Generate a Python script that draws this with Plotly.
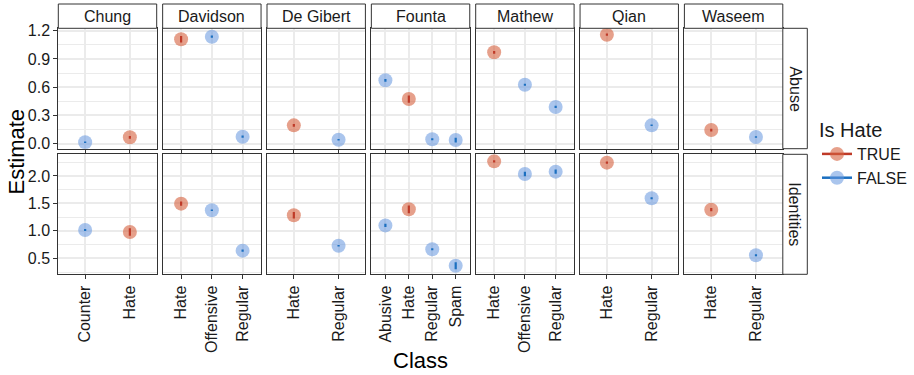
import plotly.graph_objects as go

# ---------------- data ----------------
DATASETS = ["Chung", "Davidson", "De Gibert", "Founta", "Mathew", "Qian", "Waseem"]
CLASSES = [
    ["Counter", "Hate"],
    ["Hate", "Offensive", "Regular"],
    ["Hate", "Regular"],
    ["Abusive", "Hate", "Regular", "Spam"],
    ["Hate", "Offensive", "Regular"],
    ["Hate", "Regular"],
    ["Hate", "Regular"],
]
IS_HATE = [
    [False, True],
    [True, False, False],
    [True, False],
    [False, True, False, False],
    [True, False, False],
    [True, False],
    [True, False],
]
ABUSE_EST = [
    [0.015, 0.068],
    [1.108, 1.136, 0.074],
    [0.195, 0.042],
    [0.673, 0.474, 0.047, 0.039],
    [0.970, 0.626, 0.390],
    [1.157, 0.195],
    [0.145, 0.071],
]
ABUSE_ERR = [
    [0.008, 0.015],
    [0.035, 0.012, 0.012],
    [0.015, 0.008],
    [0.015, 0.039, 0.010, 0.025],
    [0.015, 0.010, 0.012],
    [0.012, 0.008],
    [0.015, 0.008],
]
IDENT_EST = [
    [1.016, 0.980],
    [1.496, 1.375, 0.640],
    [1.284, 0.730],
    [1.100, 1.393, 0.665, 0.366],
    [2.267, 2.036, 2.079],
    [2.243, 1.594],
    [1.386, 0.556],
]
IDENT_ERR = [
    [0.020, 0.067],
    [0.040, 0.015, 0.020],
    [0.058, 0.015],
    [0.030, 0.070, 0.020, 0.064],
    [0.020, 0.040, 0.040],
    [0.020, 0.020],
    [0.030, 0.020],
]
ROWS = ["Abuse", "Identities"]
ROW_EST = [ABUSE_EST, IDENT_EST]
ROW_ERR = [ABUSE_ERR, IDENT_ERR]
Y_TICKS = [[0.0, 0.3, 0.6, 0.9, 1.2], [0.5, 1.0, 1.5, 2.0]]
Y_TICKTEXT = [["0.0", "0.3", "0.6", "0.9", "1.2"], ["0.5", "1.0", "1.5", "2.0"]]

# ---------------- style ----------------
W, H = 914, 375
FONT = "Liberation Sans, Arial, sans-serif"
FILL = {True: "rgba(214,96,62,0.6)", False: "rgba(100,150,222,0.55)"}
DARK = {True: "#BF3A28", False: "#1B6FC0"}
GRID = "#EBEBEB"
BORDER = "#333333"
TXT = "#1a1a1a"

def px(x):
    return x / W

def py(y):
    return 1 - y / H

col_left = [58.3 + i * 104.35 for i in range(7)]
col_w = 98.4
row_top = [28.3, 154.3]
row_bot = [148.7, 274.3]
y_ranges = [[-0.053, 1.225], [0.209, 2.395]]
y_minor = [dict(tick0=0, dtick=0.15), dict(tick0=0, dtick=0.25)]

fig = go.Figure()
layout = {}
shapes = []
annotations = []

for r in range(2):
    for c in range(7):
        k = r * 7 + c + 1
        xa = "xaxis" if k == 1 else f"xaxis{k}"
        ya = "yaxis" if k == 1 else f"yaxis{k}"
        xr = "x" if k == 1 else f"x{k}"
        yr = "y" if k == 1 else f"y{k}"
        cats = CLASSES[c]
        n = len(cats)
        est = ROW_EST[r][c]
        err = ROW_ERR[r][c]
        hate = IS_HATE[c]
        for grp in (True, False):
            idx = [i for i in range(n) if hate[i] == grp]
            if not idx:
                continue
            xs = idx
            ys = [est[i] for i in idx]
            es = [err[i] for i in idx]
            fig.add_trace(go.Scatter(
                x=xs, y=ys, mode="markers", xaxis=xr, yaxis=yr,
                marker=dict(size=14, color=FILL[grp], line=dict(width=0)),
                showlegend=False, hoverinfo="skip"))
            fig.add_trace(go.Scatter(
                x=xs, y=ys, mode="markers", xaxis=xr, yaxis=yr,
                marker=dict(size=1, color="rgba(0,0,0,0)"),
                error_y=dict(type="data", array=es, color=DARK[grp],
                             thickness=2.2, width=0),
                showlegend=False, hoverinfo="skip"))
        layout[xa] = dict(
            domain=[px(col_left[c]), px(col_left[c] + col_w)],
            anchor=yr, range=[-0.6, n - 1 + 0.6],
            tickmode="array", tickvals=list(range(n)),
            ticktext=cats if r == 1 else [""] * n,
            showticklabels=(r == 1), tickangle=-90,
            ticks="outside", ticklen=4, tickwidth=1, tickcolor=BORDER,
            tickfont=dict(family=FONT, size=16, color=TXT),
            showgrid=True, gridcolor=GRID, gridwidth=1.6,
            zeroline=False, showline=True, mirror=True,
            linecolor=BORDER, linewidth=1, automargin=False, fixedrange=True)
        layout[ya] = dict(
            domain=[py(row_bot[r]), py(row_top[r])],
            anchor=xr, range=y_ranges[r],
            tickmode="array", tickvals=Y_TICKS[r], ticktext=Y_TICKTEXT[r],
            showticklabels=(c == 0),
            ticks="outside" if c == 0 else "", ticklen=4, tickwidth=1,
            tickcolor=BORDER,
            tickfont=dict(family=FONT, size=16, color=TXT),
            showgrid=True, gridcolor=GRID, gridwidth=1.6,
            minor=dict(showgrid=True, gridcolor=GRID, gridwidth=0.8,
                       **y_minor[r]),
            zeroline=False, showline=True, mirror=True,
            linecolor=BORDER, linewidth=1, automargin=False, fixedrange=True)

# top strips
for c, name in enumerate(DATASETS):
    x0, x1 = px(col_left[c]), px(col_left[c] + col_w)
    shapes.append(dict(type="rect", xref="paper", yref="paper",
                       x0=x0, x1=x1, y0=py(row_top[0]), y1=py(4),
                       line=dict(color=BORDER, width=1), fillcolor="white"))
    annotations.append(dict(text=name, xref="paper", yref="paper",
                            x=(x0 + x1) / 2, y=py(16.5), showarrow=False,
                            xanchor="center", yanchor="middle",
                            font=dict(family=FONT, size=16, color=TXT)))
# right strips
sx0, sx1 = px(col_left[6] + col_w), px(807.3)
for r, name in enumerate(ROWS):
    shapes.append(dict(type="rect", xref="paper", yref="paper",
                       x0=sx0, x1=sx1, y0=py(row_bot[r]), y1=py(row_top[r]),
                       line=dict(color=BORDER, width=1), fillcolor="white"))
    annotations.append(dict(text=name, xref="paper", yref="paper",
                            x=(sx0 + sx1) / 2, y=py((row_top[r] + row_bot[r]) / 2),
                            showarrow=False, textangle=90,
                            xanchor="center", yanchor="middle",
                            font=dict(family=FONT, size=16, color=TXT)))

# axis titles
annotations.append(dict(text="Estimate", xref="paper", yref="paper",
                        x=px(16), y=py(151.5), showarrow=False, textangle=-90,
                        xanchor="center", yanchor="middle",
                        font=dict(family=FONT, size=22, color="black")))
annotations.append(dict(text="Class", xref="paper", yref="paper",
                        x=px(420.5), y=py(360), showarrow=False,
                        xanchor="center", yanchor="middle",
                        font=dict(family=FONT, size=22, color="black")))

# legend entries
for grp, label in ((True, "TRUE"), (False, "FALSE")):
    fig.add_trace(go.Scatter(
        x=[None], y=[None], mode="lines+markers", name=label,
        line=dict(color=DARK[grp], width=2.5),
        marker=dict(size=14, color=FILL[grp]),
        showlegend=True))

fig.update_layout(
    width=W, height=H,
    margin=dict(l=0, r=0, t=0, b=0),
    paper_bgcolor="white", plot_bgcolor="white",
    shapes=shapes, annotations=annotations,
    legend=dict(x=px(817), y=py(111), xanchor="left", yanchor="top",
                title=dict(text="Is Hate", font=dict(family=FONT, size=20)),
                font=dict(family=FONT, size=16, color=TXT),
                tracegroupgap=0, itemwidth=30, bgcolor="rgba(0,0,0,0)"),
    **layout)

fig.write_html("out.html", config={"displayModeBar": False},
               post_script="document.body.style.margin='0px';")
